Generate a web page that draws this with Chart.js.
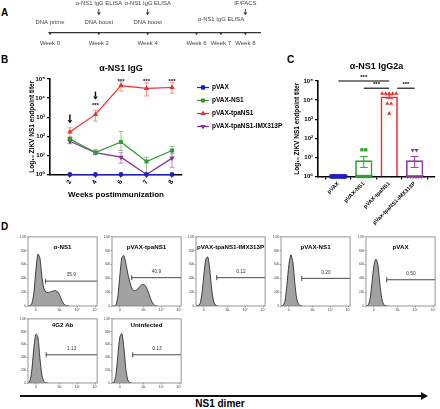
<!DOCTYPE html>
<html>
<head>
<meta charset="utf-8">
<title>ZIKV NS1 DNA vaccine</title>
<script src="https://cdn.jsdelivr.net/npm/chart.js@4.4.1/dist/chart.umd.min.js"></script>
<style>
  html, body { margin: 0; padding: 0; background: #fff; }
  #fig { position: relative; width: 440px; height: 409px; overflow: hidden; font-family: "Liberation Sans", Arial, sans-serif; }
  #fig canvas { position: absolute; }
  .panel { position: absolute; font-weight: bold; font-size: 10px; line-height: 10px; }
  #dimerLine { position: absolute; left: 20px; top: 395px; width: 402px; height: 2px; background: #111; }
  #dimerHead { position: absolute; left: 421px; top: 392px; width: 0; height: 0; border-left: 7px solid #111; border-top: 4px solid transparent; border-bottom: 4px solid transparent; }
  #dimerText { position: absolute; left: 160px; width: 120px; top: 399px; text-align: center; font-weight: bold; font-size: 10px; line-height: 10px; }
</style>
</head>
<body>
<div id="fig">
  <div class="panel" style="left:1px;top:8px">A</div>
  <div class="panel" style="left:1px;top:55px">B</div>
  <div class="panel" style="left:287px;top:55px">C</div>
  <div class="panel" style="left:1px;top:222px">D</div>
  <canvas id="timeline" width="290" height="52" style="left:0;top:0"></canvas>
  <canvas id="igg" width="292" height="150" style="left:0;top:56px"></canvas>
  <canvas id="igg2a" width="150" height="174" style="left:290px;top:56px"></canvas>
  <div id="dimerLine"></div>
  <div id="dimerHead"></div>
  <div id="dimerText">NS1 dimer</div>
</div>
<script>
// ---- A: schedule ----
const timelineWeeks = [0, 2, 4, 6, 7, 8];
const procedureWeeks = [0, 2, 4];
const procedureText = ['DNA prime', 'DNA boost', 'DNA boost'];
const assayWeeks = [2, 4, 8];
const assayText = ['α-NS1 IgG ELISA', 'α-NS1 IgG ELISA', 'IF/FACS'];
const week7Text = 'α-NS1 IgG ELISA';

// ---- B: IgG titer over time ----
const weeks = ['2', '4', '6', '7', '8'];
const seriesNames = ['pVAX', 'pVAX-NS1', 'pVAX-tpaNS1', 'pVAX-tpaNS1-IMX313P'];
const pvaxTiter = [1, 1, 1, 1, 1];
const ns1Titer = [73, 14, 50, 4.8, 18];
const ns1Lo = [62, 12, 18, 1, 12];
const ns1Hi = [85, 17, 180, 8, 30];
const tpaTiter = [170, 1400, 45000, 32000, 36000];
const tpaLo = [93, 620, 24000, 13000, 18000];
const tpaHi = [280, 2300, 72000, 62000, 67000];
const imxTiter = [55, 14, 8.1, 1, 7.2];
const imxLo = [41, 11, 3.9, 1, 2.4];
const imxHi = [73, 20, 14, 1, 18];
const starWeekIdx = [1, 2, 3, 4];
const starLevel = [4200, 80000, 80000, 80000];
const boostWeekIdx = [0, 1];
const boostTop = [1400, 22000];
const boostTip = [480, 8500];

// ---- C: IgG2a at week 8 ----
const groups = ['pVAX', 'pVAX-NS1', 'pVAX-tpaNS1', 'pVax-tpaNS1-IMX313P'];
const groupMean = [1, 7, 15600, 7];
const groupLo = [1, 3, 12500, 3];
const groupHi = [1, 11, 18700, 11];
const pvaxMice = [1, 1, 1, 1, 1, 1, 1, 1];
const ns1Mice = [25, 25, 1, 1, 1, 1, 1, 1];
const tpaMice = [22000, 22000, 22000, 22000, 22000, 6500, 6500, 2000];
const imxMice = [24, 24, 1, 1, 1, 1, 1, 1];
const sigFrom = [0, 1, 2];
const sigTo = [2, 2, 3];
const sigLevel = [100000, 42000, 42000];

// ---- D: FACS histograms (counts per bin) ----
const histNames = ['α-NS1', 'pVAX-tpaNS1', 'pVAX-tpaNS1-IMX313P', 'pVAX-NS1', 'pVAX', '4G2 Ab', 'Uninfected'];
const histGate = ['35.9', '40.9', '0.12', '0.20', '0.50', '1.13', '0.13'];
const gateStart = [8.9, 10, 10.5, 10.5, 10.5, 9.2, 10.5];
const gateLevel = [360, 410, 410, 400, 380, 440, 440];
const histAntiNS1 = [0, 4, 40, 200, 520, 750, 700, 430, 260, 205, 195, 200, 210, 220, 222, 205, 160, 90, 35, 10, 2, 0];
const histTpa = [0, 0, 15, 150, 450, 700, 730, 620, 470, 350, 260, 225, 225, 245, 280, 305, 310, 290, 230, 150, 75, 25, 5, 0];
const histTpaImx = [0, 2, 30, 180, 450, 680, 710, 520, 230, 60, 10, 0];
const histNS1 = [0, 5, 70, 300, 600, 740, 640, 330, 100, 20, 2, 0];
const histPvax = [0, 8, 90, 330, 580, 680, 600, 330, 110, 20, 3, 0];
const hist4G2 = [0, 30, 220, 560, 760, 720, 400, 130, 25, 3, 0];
const histUninf = [0, 10, 130, 440, 720, 770, 560, 220, 50, 6, 0];
const histTickBins = [4, 16, 25, 34];
const histTickText = ['0', '10³', '10⁴', '10⁵'];
const histCountTicks = [0, 200, 400, 600, 800, 1000];

const FONT = '"Liberation Sans", Arial, "DejaVu Sans", sans-serif';
Chart.defaults.font.family = FONT;
Chart.defaults.color = '#000';
Chart.defaults.animation = false;
Chart.defaults.responsive = false;
Chart.defaults.plugins.legend.display = false;
Chart.defaults.plugins.tooltip.enabled = false;

const SUP = '⁰¹²³⁴⁵';
function pow10(v) { return '10' + SUP[Math.round(Math.log10(v))]; }
function fixH(h) { return s => { s.height = h; s.paddingLeft = 0; s.paddingRight = 0; }; }
function fixW(w) { return s => { s.width = w; s.paddingTop = 0; s.paddingBottom = 0; }; }
function decades(s) { s.ticks = [1, 10, 100, 1000, 10000, 100000].map(v => ({ value: v })); }

function marker(ctx, style, rot, r, x, y) {
  if (Chart.helpers && Chart.helpers.drawPoint) {
    Chart.helpers.drawPoint(ctx, { pointStyle: style, rotation: rot, radius: r, borderWidth: 0 }, x, y);
  } else {
    ctx.beginPath(); ctx.arc(x, y, r, 0, Math.PI * 2); ctx.fill();
  }
}
function downArrow(ctx, x, y0, y1, head) {
  ctx.beginPath(); ctx.moveTo(x, y0); ctx.lineTo(x, y1 - head); ctx.stroke();
  ctx.beginPath(); ctx.moveTo(x - head * 0.8, y1 - head); ctx.lineTo(x + head * 0.8, y1 - head); ctx.lineTo(x, y1); ctx.closePath(); ctx.fill();
}

// ---------- A ----------
const timelineText = {
  id: 'timelineText',
  afterDraw(chart) {
    const { ctx, scales: { x } } = chart;
    ctx.save();
    ctx.fillStyle = '#444'; ctx.strokeStyle = '#333'; ctx.lineWidth = 0.9;
    ctx.font = '5.9px ' + FONT; ctx.textAlign = 'center'; ctx.textBaseline = 'middle';
    procedureWeeks.forEach((w, i) => ctx.fillText(procedureText[i], x.getPixelForValue(w), 22.5));
    ctx.fillText(week7Text, x.getPixelForValue(7), 19.3);
    assayWeeks.forEach((w, i) => {
      const px = x.getPixelForValue(w);
      ctx.fillText(assayText[i], px, 3.6);
      ctx.fillStyle = '#222';
      downArrow(ctx, px, 9, 15, 2.5);
      ctx.fillStyle = '#444';
    });
    ctx.restore();
  }
};

new Chart(document.getElementById('timeline'), {
  type: 'scatter',
  data: {
    datasets: [{
      data: timelineWeeks.map(w => ({ x: w, y: 0 })),
      pointStyle: 'triangle', rotation: 180, pointRadius: 2.2,
      backgroundColor: '#333', borderColor: '#333', pointBorderWidth: 0, clip: false
    }]
  },
  options: {
    layout: { padding: { left: 50, right: 30, top: 0, bottom: 0 } },
    scales: {
      x: {
        type: 'linear', min: 0, max: 8.6,
        grid: { display: false, drawTicks: false, tickLength: 0 },
        border: { color: '#333', width: 1.2 },
        afterBuildTicks: s => { s.ticks = timelineWeeks.map(v => ({ value: v })); },
        afterFit: fixH(19),
        ticks: { padding: 7, font: { size: 6 }, color: '#444', maxRotation: 0, autoSkip: false, callback: v => 'Week ' + v }
      },
      y: { display: false, min: 0, max: 1 }
    }
  },
  plugins: [timelineText]
});

// ---------- B ----------
const bColors = ['#2020c0', '#2e9b2e', '#ee2a2a', '#8b2c97'];
const bErrColors = ['#2020c0', 'rgba(46,155,46,0.6)', 'rgba(238,42,42,0.55)', 'rgba(139,44,151,0.6)'];
const bStyles = ['circle', 'rect', 'triangle', 'triangle'];
const bRot = [0, 0, 0, 180];
const bRad = [2.4, 2.8, 3, 3];
const bSeries = [pvaxTiter, ns1Titer, tpaTiter, imxTiter];
const bLo = [null, ns1Lo, tpaLo, imxLo];
const bHi = [null, ns1Hi, tpaHi, imxHi];

const iggExtras = {
  id: 'iggExtras',
  beforeDatasetsDraw(chart) {
    const { ctx, scales: { x, y } } = chart;
    ctx.save(); ctx.lineWidth = 0.9;
    bSeries.forEach((s, i) => {
      if (!bLo[i]) return;
      ctx.strokeStyle = bErrColors[i];
      s.forEach((v, k) => {
        const px = x.getPixelForValue(k), y0 = y.getPixelForValue(bLo[i][k]), y1 = y.getPixelForValue(bHi[i][k]);
        ctx.beginPath();
        ctx.moveTo(px, y0); ctx.lineTo(px, y1);
        ctx.moveTo(px - 2.5, y0); ctx.lineTo(px + 2.5, y0);
        ctx.moveTo(px - 2.5, y1); ctx.lineTo(px + 2.5, y1);
        ctx.stroke();
      });
    });
    ctx.restore();
  },
  afterDraw(chart) {
    const { ctx, chartArea: a, scales: { x, y } } = chart;
    ctx.save();
    ctx.fillStyle = '#000'; ctx.textAlign = 'center'; ctx.textBaseline = 'middle';
    ctx.font = 'bold 9px ' + FONT;
    ctx.fillText('α-NS1 IgG', (a.left + a.right) / 2 + 5, 12.5);
    ctx.font = 'bold 6px ' + FONT;
    starWeekIdx.forEach((k, i) => ctx.fillText('***', x.getPixelForValue(k), y.getPixelForValue(starLevel[i])));
    ctx.strokeStyle = '#000'; ctx.lineWidth = 1.4;
    boostWeekIdx.forEach((k, i) => downArrow(ctx, x.getPixelForValue(k), y.getPixelForValue(boostTop[i]), y.getPixelForValue(boostTip[i]), 3));
    // legend
    ctx.textAlign = 'left'; ctx.font = 'bold 6.5px ' + FONT;
    seriesNames.forEach((n, i) => {
      const ly = a.top + 8.5 + 13 * i, lx = a.right + 15;
      ctx.strokeStyle = bColors[i]; ctx.fillStyle = bColors[i]; ctx.lineWidth = 1.2;
      ctx.beginPath(); ctx.moveTo(lx, ly); ctx.lineTo(lx + 12, ly); ctx.stroke();
      marker(ctx, bStyles[i], bRot[i], bRad[i], lx + 6, ly);
      ctx.fillStyle = '#000';
      ctx.fillText(n, lx + 15, ly);
    });
    ctx.restore();
  }
};

new Chart(document.getElementById('igg'), {
  type: 'line',
  data: {
    datasets: bSeries.map((s, i) => ({
      label: seriesNames[i],
      data: s.map((v, k) => ({ x: k, y: v })),
      borderColor: bColors[i], backgroundColor: bColors[i], borderWidth: 1.2,
      pointStyle: bStyles[i], rotation: bRot[i], pointRadius: bRad[i], pointBorderWidth: 0,
      clip: false, tension: 0
    }))
  },
  options: {
    layout: { padding: { left: 24, right: 110, top: 23, bottom: 0 } },
    scales: {
      x: {
        type: 'linear', min: -0.78, max: 4.39,
        afterBuildTicks: s => { s.ticks = weeks.map((w, k) => ({ value: k })); },
        afterFit: fixH(31.5),
        ticks: { callback: v => weeks[v], font: { size: 6.5, weight: 'bold' }, minRotation: 60, maxRotation: 60, padding: 1, autoSkip: false },
        grid: { drawOnChartArea: false, tickLength: 3, color: '#000', lineWidth: 1.2 },
        border: { color: '#000', width: 1.6 },
        title: { display: true, text: 'Weeks postimmunization', font: { size: 8, weight: 'bold' }, padding: { top: 0, bottom: 6 } }
      },
      y: {
        type: 'logarithmic', min: 1, max: 100000,
        afterBuildTicks: decades,
        afterFit: fixW(26),
        ticks: { callback: v => pow10(v), font: { size: 6, weight: 'bold' }, padding: 2 },
        grid: { drawOnChartArea: false, tickLength: 3, color: '#000', lineWidth: 1.2 },
        border: { color: '#000', width: 1.6 },
        title: { display: true, text: 'Log₁₀ ZIKV NS1 endpoint titer', font: { size: 6.5, weight: 'bold' }, padding: { top: 4, bottom: 0 } }
      }
    }
  },
  plugins: [iggExtras]
});

// ---------- C ----------
const cColors = ['#2020c0', '#2ea02e', '#ee2a2a', '#8e3a9c'];
const cMice = [pvaxMice, ns1Mice, tpaMice, imxMice];

function swarm(values, center) {
  const counts = {}, seen = {};
  values.forEach(v => { counts[v] = (counts[v] || 0) + 1; });
  return values.map(v => {
    const n = counts[v], k = seen[v] = (seen[v] === undefined ? 0 : seen[v] + 1);
    const step = n > 1 ? Math.min(0.15, 0.55 / (n - 1)) : 0;
    return { x: center + (k - (n - 1) / 2) * step, y: v };
  });
}

const igg2aExtras = {
  id: 'igg2aExtras',
  afterDatasetsDraw(chart) {
    const { ctx, scales: { x, y } } = chart;
    ctx.save(); ctx.lineWidth = 1;
    groupMean.forEach((m, i) => {
      if (groupLo[i] === groupHi[i]) return;
      const px = x.getPixelForValue(i), y0 = y.getPixelForValue(groupLo[i]), y1 = y.getPixelForValue(groupHi[i]);
      ctx.strokeStyle = cColors[i];
      ctx.beginPath();
      ctx.moveTo(px, y0); ctx.lineTo(px, y1);
      ctx.moveTo(px - 4, y0); ctx.lineTo(px + 4, y0);
      ctx.moveTo(px - 4, y1); ctx.lineTo(px + 4, y1);
      ctx.stroke();
    });
    ctx.restore();
  },
  afterDraw(chart) {
    const { ctx, chartArea: a, scales: { x, y } } = chart;
    ctx.save();
    ctx.fillStyle = '#000'; ctx.strokeStyle = '#000'; ctx.lineWidth = 1.1;
    ctx.textAlign = 'center'; ctx.textBaseline = 'middle';
    ctx.font = 'bold 9px ' + FONT;
    ctx.fillText('α-NS1 IgG2a', (a.left + a.right) / 2, 11);
    ctx.font = 'bold 6px ' + FONT;
    sigFrom.forEach((f, i) => {
      const x0 = x.getPixelForValue(f) + (i === 2 ? 8 : 0), x1 = x.getPixelForValue(sigTo[i]), py = y.getPixelForValue(sigLevel[i]);
      ctx.beginPath(); ctx.moveTo(x0, py); ctx.lineTo(x1, py); ctx.stroke();
      ctx.fillText('***', (x0 + x1) / 2, py - 3.5);
    });
    ctx.restore();
  }
};

new Chart(document.getElementById('igg2a'), {
  type: 'bar',
  data: {
    datasets: cMice.map((m, i) => ({
      type: 'scatter',
      data: swarm(m, i),
      pointStyle: bStyles[i], rotation: bRot[i], pointRadius: i === 1 ? 2.3 : 2.4,
      backgroundColor: cColors[i], borderColor: cColors[i], pointBorderWidth: 0,
      clip: false, order: 1
    })).concat([{
      type: 'bar',
      data: groupMean.map((v, i) => ({ x: i, y: v })),
      backgroundColor: 'rgba(255,255,255,0)', borderColor: cColors, borderWidth: 1.6,
      barPercentage: 0.68, categoryPercentage: 1, order: 2
    }])
  },
  options: {
    layout: { padding: { left: 0, right: 5, top: 25, bottom: 0 } },
    scales: {
      x: {
        type: 'linear', min: -0.8, max: 3.8, offset: false,
        afterBuildTicks: s => { s.ticks = groups.map((g, k) => ({ value: k })); },
        afterFit: fixH(53.5),
        ticks: { callback: v => groups[v], font: { size: 5.5, weight: 'bold' }, minRotation: 45, maxRotation: 45, padding: 1, autoSkip: false },
        grid: { drawOnChartArea: false, tickLength: 3, color: '#000', lineWidth: 1.2 },
        border: { color: '#000', width: 1.6 }
      },
      y: {
        type: 'logarithmic', min: 1, max: 100000,
        afterBuildTicks: decades,
        afterFit: fixW(28),
        ticks: { callback: v => pow10(v), font: { size: 6, weight: 'bold' }, padding: 2 },
        grid: { drawOnChartArea: false, tickLength: 3, color: '#000', lineWidth: 1.2 },
        border: { color: '#000', width: 1.6 },
        title: { display: true, text: 'Log₁₀ ZIKV NS1 endpoint titer', font: { size: 6.5, weight: 'bold' }, padding: { top: 3, bottom: 0 } }
      }
    }
  },
  plugins: [igg2aExtras]
});

// ---------- D ----------
const histData = [histAntiNS1, histTpa, histTpaImx, histNS1, histPvax, hist4G2, histUninf];
const boxLeft = [28, 112, 196, 281, 366, 28, 112];
const boxTop = [233, 233, 233, 233, 233, 315, 315];
const boxH = [73, 73, 73, 73, 73, 68, 68];
const titleDrop = [10, 10, 10, 10, 10, 6, 6];
const boxW = 73;
const fig = document.getElementById('fig');

histData.forEach((h, i) => {
  const cv = document.createElement('canvas');
  cv.width = boxW + 10; cv.height = boxH[i] + 8;
  cv.style.left = (boxLeft[i] - 9) + 'px'; cv.style.top = (boxTop[i] - 1) + 'px';
  fig.appendChild(cv);
  const boxPlugin = {
    id: 'box' + i,
    afterDraw(chart) {
      const { ctx, chartArea: a, scales: { x, y } } = chart;
      ctx.save();
      ctx.strokeStyle = '#7a7a7a'; ctx.lineWidth = 0.8;
      ctx.strokeRect(a.left, a.top, a.right - a.left, a.bottom - a.top);
      ctx.fillStyle = '#000'; ctx.textAlign = 'center'; ctx.textBaseline = 'middle';
      ctx.font = 'bold 6.2px ' + FONT;
      ctx.fillText(histNames[i], (a.left + a.right) / 2, a.top + titleDrop[i]);
      ctx.font = '4.8px ' + FONT; ctx.fillStyle = '#333';
      ctx.fillText(histGate[i], (x.getPixelForValue(gateStart[i]) + a.right) / 2, y.getPixelForValue(gateLevel[i]) - 6);
      ctx.restore();
    }
  };
  new Chart(cv, {
    type: 'line',
    data: {
      datasets: [{
        data: h.map((v, k) => ({ x: k, y: v })),
        fill: 'origin', backgroundColor: '#a2a2a2', borderColor: '#1a1a1a', borderWidth: 0.8,
        pointRadius: 0, tension: 0.25, order: 2
      }, {
        data: [{ x: gateStart[i], y: gateLevel[i] }, { x: 35, y: gateLevel[i] }],
        borderColor: '#333', borderWidth: 0.9, fill: false,
        pointStyle: 'line', rotation: 90, pointRadius: [2.5, 0], pointBorderColor: '#333', pointBorderWidth: 0.9,
        clip: false, order: 1
      }]
    },
    options: {
      layout: { padding: { top: 1, right: 1, left: 0, bottom: 0 } },
      scales: {
        x: {
          type: 'linear', min: 0, max: 35,
          afterBuildTicks: s => { s.ticks = histTickBins.map(v => ({ value: v })); },
          afterFit: fixH(7),
          ticks: { callback: (v, k) => histTickText[k], font: { size: 3.4 }, color: '#333', padding: 0.5, maxRotation: 0, autoSkip: false },
          grid: { drawOnChartArea: false, tickLength: 1.5, color: '#555', lineWidth: 0.5 },
          border: { display: false }
        },
        y: {
          min: 0, max: 1000,
          afterBuildTicks: s => { s.ticks = histCountTicks.map(v => ({ value: v })); },
          afterFit: fixW(9),
          ticks: { callback: v => (v === 1000 ? '1.0K' : String(v)), font: { size: 3 }, color: '#333', padding: 0.5 },
          grid: { drawOnChartArea: false, tickLength: 1.5, color: '#555', lineWidth: 0.5 },
          border: { display: false }
        }
      }
    },
    plugins: [boxPlugin]
  });
});
</script>
</body>
</html>
